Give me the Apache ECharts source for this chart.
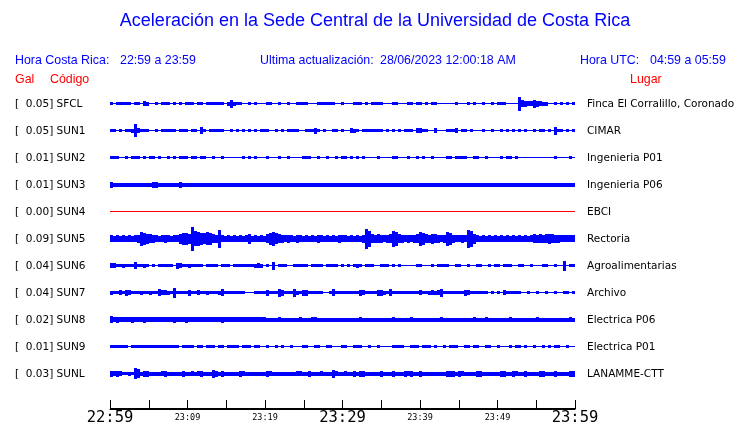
<!DOCTYPE html>
<html>
<head>
<meta charset="utf-8">
<script src="https://cdn.jsdelivr.net/npm/echarts@6/dist/echarts.min.js"></script>
<style>html,body{margin:0;padding:0;background:#fff;}#c{width:740px;height:423px;}</style>
</head>
<body>
<div id="c"></div>
<script>
// ---- data ----
const codes = ["SFCL","SUN1","SUN2","SUN3","SUN4","SUN5","SUN6","SUN7","SUN8","SUN9","SUNL"];
const galValues = ["0.05","0.05","0.01","0.01","0.00","0.09","0.04","0.04","0.02","0.01","0.03"];
const places = ["Finca El Corralillo, Coronado","CIMAR","Ingenieria P01","Ingenieria P06","EBCI","Rectoria","Agroalimentarias","Archivo","Electrica P06","Electrica P01","LANAMME-CTT"];
const tickLabels = ["22:59","23:09","23:19","23:29","23:39","23:49","23:59"];
const bigTickLabels = ["22:59","23:29","23:59"];
// envelope amplitude (peak-to-peak, base36 digits) per ~23 s sample, 22:59 -> 23:59
const ampSFCL = "31333 33133 15411 31333 13131 33313 31333 33314 84331 13131 11331 13113 11333 31113 33333 11311 13331 31333 31113 31113 31331 31331 11111 31113 13113 11313 33111 1e765 58654 41131 31313";
const ampSUN1 = "33131 334d5 33311 31333 33133 31331 73133 33311 31313 13131 33311 31313 33311 33363 13113 31311 54313 33333 31313 13133 31553 31151 11333 51331 31113 11311 31313 13131 13133 13183 31313";
const ampSUN2 = "33311 31333 13133 13113 13133 31331 33113 11311 11113 13131 11311 13113 11113 33113 11311 31331 31313 11113 11113 31113 11313 11311 11331 33331 13311 31111 31331 31111 11111 11131 11131";
const ampSUN3 = "64444 44444 44446 64444 44464 44444 44444 44444 44444 44444 44444 44444 44444 44444 44444 44444 44444 44444 44444 44444 44444 44444 44444 44444 44444 44444 44444 44444 44444 44444 44444";
const ampSUN4 = "11111 11111 11111 11111 11111 11111 11111 11111 11111 11111 11111 11111 11111 11111 11111 11111 11111 11111 11111 11111 11111 11111 11111 11111 11111 11111 11111 11111 11111 11111 11111";
const ampSUN5 = "76767 67678 eca98 76787 677ac caofe cbdc9 8i767 67676 7a676 769ce b9878 76876 76768 76767 68776 76768 kg989 8789g e9878 789ec 98a98 78ec8 7787i ga767 67676 76767 67676 79898 9a988 77777";
const ampSUN6 = "55334 33373 34313 13333 31653 34333 31333 31333 13333 33345 41318 13331 13333 31333 31333 31313 13431 33311 33313 13111 11331 11313 33311 33113 11331 13133 13331 13311 31113 31131 1a133";
const ampSUN7 = "43353 65333 43343 37554 3a333 36335 33433 34733 33333 11133 33633 38633 38436 63333 31137 33333 33365 33336 64373 33333 33353 34545 83333 33365 33333 31313 15333 33113 11311 31131 13313";
const ampSUN8 = "75655 55655 56555 55555 56555 65555 55555 55655 55555 55555 55444 45444 44454 44554 44444 44444 44454 44444 44445 44444 54444 44444 54444 44444 45444 54444 44454 44444 44544 44444 44454";
const ampSUN9 = "33333 31333 33333 33333 33313 33313 31333 13313 33313 33133 11311 31311 31113 31133 11331 11331 13331 13113 11113 33311 33313 33131 13133 31133 13311 33113 11131 33131 13113 13133 11311";
const ampSUNL = "65653 343b9 46644 44564 44446 44545 64448 64644 44465 44444 44654 44444 44554 46444 54448 54454 46466 44444 64446 44465 64464 44444 44666 46544 44664 44444 66446 54464 44466 44464 44466";
const ampStrings = [ampSFCL, ampSUN1, ampSUN2, ampSUN3, ampSUN4, ampSUN5, ampSUN6, ampSUN7, ampSUN8, ampSUN9, ampSUNL];
const traceColors = ["#0000ff","#0000ff","#0000ff","#0000ff","#ff0000","#0000ff","#0000ff","#0000ff","#0000ff","#0000ff","#0000ff"];

// ---- build ----
const SPAN = 60; // minutes
const AMP_UNIT = 1 / 27; // one amplitude unit in trace spacings
const traceData = [];
let STEP = 0;
ampStrings.forEach((s, tr) => {
  const vals = s.replace(/\s+/g, '').split('').map(ch => parseInt(ch, 36));
  STEP = SPAN / vals.length;
  vals.forEach((v, k) => traceData.push([k * STEP, tr, v]));
});

const chart = echarts.init(document.getElementById('c'), null, {renderer: 'canvas'});
const blue = '#0000ff', red = '#ff0000';
const hdrFont = 'Liberation Sans, Arial, sans-serif';
function txt(text, x, y, color, size, family, align) {
  return {type: 'text', x: x, y: y, silent: true,
    style: {text: text, fill: color, fontSize: size, fontFamily: family || hdrFont, verticalAlign: 'middle', align: align || 'left'}};
}
chart.setOption({
  animation: false,
  backgroundColor: '#fff',
  grid: {left: 110, right: 165, top: 90, bottom: 14, containLabel: false, outerBoundsMode: 'none'},
  xAxis: {
    type: 'value', min: 0, max: SPAN, interval: 5, position: 'bottom',
    axisLine: {show: true, onZero: false, lineStyle: {color: '#000', width: 1}},
    axisTick: {show: true, inside: true, length: 9, lineStyle: {color: '#000', width: 1}},
    splitLine: {show: false},
    axisLabel: {
      margin: 1, showMinLabel: true, showMaxLabel: true, hideOverlap: false,
      formatter: function (v) {
        if (v % 10 !== 0) return '';
        const lab = tickLabels[v / 10];
        return bigTickLabels.indexOf(lab) >= 0 ? '{b|' + lab + '}' : '{s|' + lab + '}';
      },
      rich: {
        b: {fontFamily: 'DejaVu Sans Mono', fontSize: 15.5, color: '#000', lineHeight: 16},
        s: {fontFamily: 'DejaVu Sans Mono', fontSize: 8.5, color: '#000', lineHeight: 16}
      }
    }
  },
  yAxis: {type: 'value', min: -0.5, max: 11.3148, inverse: true, show: false},
  series: [
    {
      type: 'custom', clip: false, data: traceData,
      encode: {x: 0, y: 1},
      renderItem: function (params, api) {
        const t = api.value(0), tr = api.value(1), a = api.value(2);
        const p = api.coord([t, tr]);
        const w = Math.abs(api.size([STEP, 0])[0]);
        const unitPx = Math.abs(api.size([0, AMP_UNIT])[1]);
        const h = Math.max(1, Math.round(a * unitPx));
        const y = Math.round(p[1] - h / 2);
        const x0 = Math.round(p[0]);
        return {type: 'rect', shape: {x: x0, y: y, width: Math.round(p[0] + w) - x0, height: h},
          style: {fill: traceColors[tr]}};
      }
    },
    {
      type: 'custom', clip: false,
      data: codes.map((c, i) => [0, i]),
      encode: {x: 0, y: 1},
      renderItem: function (params, api) {
        const i = api.value(1);
        const p = api.coord([0, i]);
        const yy = Math.round(p[1]) + 0.5;
        return {type: 'group', children: [
          {type: 'text', x: 15, y: yy, style: {text: '[  ' + galValues[i] + '] ' + codes[i], fill: '#000', fontFamily: 'DejaVu Sans', fontSize: 10.5, verticalAlign: 'middle'}},
          {type: 'text', x: 587, y: yy, style: {text: places[i], fill: '#000', fontFamily: 'DejaVu Sans', fontSize: 10.5, verticalAlign: 'middle'}}
        ]};
      }
    },
    {
      // bottom time axis baseline, drawn through the x scale
      type: 'custom', clip: false, silent: true,
      data: [[0, 60]],
      encode: {x: [0, 1]},
      renderItem: function (params, api) {
        const a = api.coord([api.value(0), 11.3148]);
        const b = api.coord([api.value(1), 11.3148]);
        return {type: 'line', shape: {x1: a[0], y1: Math.round(a[1]) - 0.5, x2: b[0] + 0.5, y2: Math.round(b[1]) - 0.5},
          style: {stroke: '#000', lineWidth: 1}};
      }
    }
  ],
  graphic: [
    txt('Aceleración en la Sede Central de la Universidad de Costa Rica', 375, 21, blue, 18, hdrFont, 'center'),
    txt('Hora Costa Rica:', 15, 61, blue, 12.4),
    txt('22:59 a 23:59', 120, 61, blue, 12.4),
    txt('Ultima actualización:', 260, 61, blue, 12.4),
    txt('28/06/2023 12:00:18 AM', 380, 61, blue, 12.4),
    txt('Hora UTC:', 580, 61, blue, 12.4),
    txt('04:59 a 05:59', 650, 61, blue, 12.4),
    txt('Gal', 15, 80, red, 12.4),
    txt('Código', 50, 80, red, 12.4),
    txt('Lugar', 630, 80, red, 12.4)
  ]
});
</script>
</body>
</html>
